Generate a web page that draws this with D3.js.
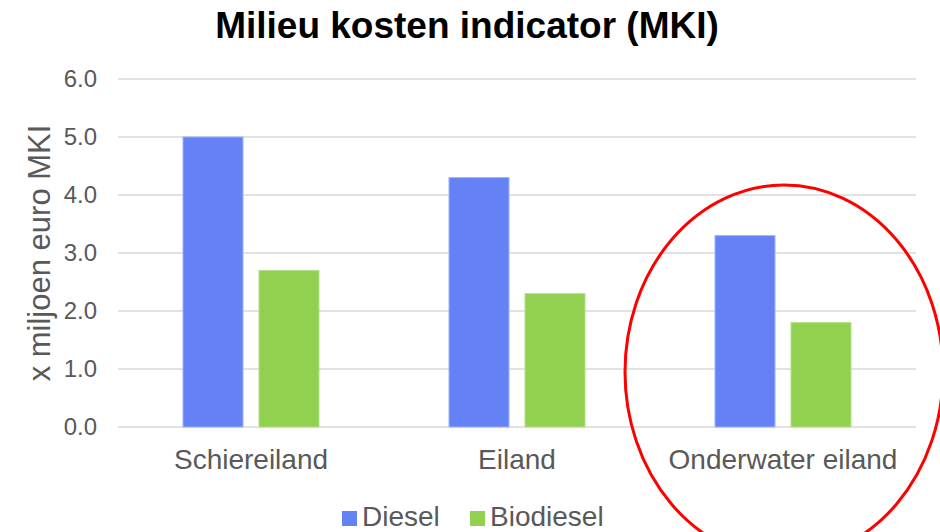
<!DOCTYPE html>
<html>
<head>
<meta charset="utf-8">
<script src="https://cdn.jsdelivr.net/npm/d3@7"></script>
<style>
  html, body { margin: 0; padding: 0; background: #fff; }
  svg { display: block; font-family: "Liberation Sans", Arial, sans-serif; }
</style>
</head>
<body>
<svg id="chart" width="940" height="532"></svg>
<script>
// Categories, series and tick values
const categories = ["Schiereiland", "Eiland", "Onderwater eiland"];
const seriesNames = ["Diesel", "Biodiesel"];
const diesel = [5.0, 4.3, 3.3];
const biodiesel = [2.7, 2.3, 1.8];
const yTicks = [0, 1, 2, 3, 4, 5, 6];
const colors = ["#6481F5", "#92D050"];
const strokes = ["#9FB1F8", "#B5E08A"];

const svg = d3.select("#chart");
const W = 940, H = 532;
const m = { left: 118, right: 24, top: 79, bottom: 105 };
const FONT = "Liberation Sans, Arial, sans-serif";

const y = d3.scaleLinear().domain([0, 6]).range([H - m.bottom, m.top]);
const pIn = 130 / 266;
const x0 = d3.scaleBand().domain(categories)
  .range([m.left, W - m.right]).paddingInner(pIn).paddingOuter(pIn / 2);
const x1 = d3.scaleBand().domain(seriesNames)
  .range([0, x0.bandwidth()]).paddingInner(16 / 76).paddingOuter(0);

// Gridlines
svg.append("g").selectAll("line").data(yTicks).join("line")
  .attr("x1", m.left).attr("x2", W - m.right)
  .attr("y1", d => y(d)).attr("y2", d => y(d))
  .attr("stroke", "#d9d9d9").attr("stroke-width", 1.5);

// Y axis tick labels
const yAxis = d3.axisLeft(y).tickValues(yTicks).tickFormat(d3.format(".1f")).tickSize(0).tickPadding(21);
const ya = svg.append("g").attr("transform", `translate(${m.left},0)`).call(yAxis);
ya.select(".domain").remove();
ya.selectAll("text").style("font-size", "24px").attr("fill", "#595959").style("font-family", FONT);

// Bars
const rows = categories.map((c, i) => ({ cat: c, vals: [diesel[i], biodiesel[i]] }));
const groups = svg.append("g").selectAll("g").data(rows).join("g")
  .attr("transform", d => `translate(${x0(d.cat)},0)`);
groups.selectAll("rect").data(d => d.vals.map((v, j) => ({ v, j })))
  .join("rect")
  .attr("x", d => x1(seriesNames[d.j]))
  .attr("width", x1.bandwidth())
  .attr("y", d => y(d.v))
  .attr("height", d => y(0) - y(d.v))
  .attr("fill", d => colors[d.j])
  .attr("stroke", d => strokes[d.j]).attr("stroke-width", 1);

// Category labels
const xAxis = d3.axisBottom(x0).tickSize(0).tickPadding(22);
const xa = svg.append("g").attr("transform", `translate(0,${y(0)})`).call(xAxis);
xa.select(".domain").remove();
xa.selectAll("text").style("font-size", "28px").attr("fill", "#595959").style("font-family", FONT);

// Title
svg.append("text").attr("x", 467).attr("y", 38).attr("text-anchor", "middle")
  .attr("font-size", 37).attr("font-weight", "bold").attr("fill", "#000")
  .text("Milieu kosten indicator (MKI)");

// Y axis title
svg.append("text")
  .attr("transform", `translate(50,${(y(0) + y(6)) / 2}) rotate(-90)`)
  .attr("text-anchor", "middle").attr("font-size", 31).attr("fill", "#595959")
  .text("x miljoen euro MKI");

// Legend
const legX = [342, 470];
const leg = svg.append("g").selectAll("g").data(seriesNames).join("g")
  .attr("transform", (d, i) => `translate(${legX[i]},511)`);
leg.append("rect").attr("width", 15).attr("height", 15).attr("fill", (d, i) => colors[i]);
leg.append("text").attr("x", 20).attr("y", 15).attr("font-size", 28).attr("fill", "#595959").text(d => d);

// Highlight ellipse around the last group
const last = categories[categories.length - 1];
svg.append("ellipse")
  .attr("cx", x0(last) + x0.bandwidth() / 2 + 1).attr("cy", 372)
  .attr("rx", 159).attr("ry", 187)
  .attr("fill", "none").attr("stroke", "#FF0000").attr("stroke-width", 3);
</script>
</body>
</html>
